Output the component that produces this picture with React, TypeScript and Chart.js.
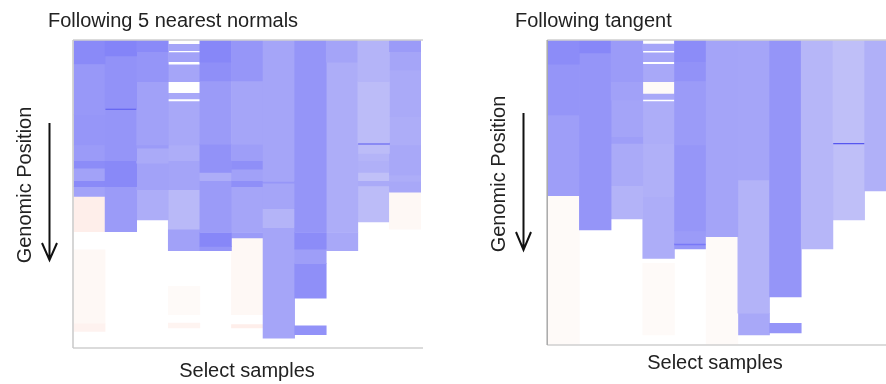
import React, { useEffect, useRef } from 'react';
import { Chart, registerables } from 'chart.js';

Chart.register(...registerables);

// Samples (columns) shown in each panel
const SAMPLES = ['S1', 'S2', 'S3', 'S4', 'S5', 'S6', 'S7', 'S8', 'S9', 'S10', 'S11'];

// Genomic position axis spans 0..1000 (top to bottom)
const POSITION_MIN = 0;
const POSITION_MAX = 1000;

// Segments per sample: [start, end, log ratio]
type Seg = [number, number, number];

const NEAREST_NORMALS_SEGMENTS: Seg[][] = [
  [[0, 78, -0.78], [78, 243, -0.69], [243, 341, -0.7], [341, 392, -0.67], [392, 416, -0.77], [416, 457, -0.62], [457, 476, -0.78], [476, 508, -0.62], [508, 622, 0.08], [681, 919, 0.03], [919, 946, 0.06]],
  [[0, 52, -0.82], [52, 222, -0.73], [222, 225, -1.1], [225, 392, -0.71], [392, 476, -0.79], [476, 622, -0.67]],
  [[0, 38, -0.78], [38, 135, -0.71], [135, 341, -0.63], [341, 351, -0.67], [351, 400, -0.57], [400, 486, -0.62], [486, 584, -0.55]],
  [[14, 35, -0.6], [41, 70, -0.62], [81, 135, -0.6], [173, 191, -0.58], [200, 341, -0.58], [341, 392, -0.55], [392, 486, -0.61], [486, 614, -0.47], [614, 684, -0.63], [800, 892, 0.02], [919, 935, 0.05]],
  [[0, 72, -0.8], [72, 133, -0.75], [133, 338, -0.67], [338, 430, -0.73], [430, 457, -0.55], [457, 625, -0.67], [625, 670, -0.8], [670, 684, -0.71]],
  [[0, 133, -0.7], [133, 338, -0.6], [338, 392, -0.65], [392, 419, -0.75], [419, 457, -0.63], [457, 476, -0.75], [476, 625, -0.6], [625, 643, -0.67], [643, 892, 0.03], [924, 935, 0.08]],
  [[0, 459, -0.6], [459, 465, -0.7], [465, 548, -0.6], [548, 609, -0.5], [609, 968, -0.6]],
  [[0, 625, -0.71], [625, 679, -0.77], [679, 726, -0.65], [726, 838, -0.75], [928, 957, -0.73]],
  [[0, 72, -0.61], [72, 625, -0.55], [625, 684, -0.58]],
  [[0, 135, -0.5], [135, 335, -0.45], [335, 338, -1.13], [338, 368, -0.45], [368, 392, -0.5], [392, 430, -0.53], [430, 457, -0.42], [457, 474, -0.57], [474, 591, -0.45]],
  [[0, 38, -0.67], [38, 97, -0.6], [97, 249, -0.57], [249, 341, -0.55], [341, 438, -0.58], [438, 459, -0.55], [459, 494, -0.58], [494, 614, 0.03]],
];

const TANGENT_SEGMENTS: Seg[][] = [
  [[0, 79, -0.77], [79, 246, -0.71], [246, 510, -0.65], [510, 1000, 0.02]],
  [[0, 42, -0.8], [42, 623, -0.71]],
  [[0, 137, -0.67], [137, 197, -0.63], [197, 317, -0.61], [317, 339, -0.65], [339, 478, -0.57], [478, 587, -0.51]],
  [[13, 35, -0.6], [42, 71, -0.6], [80, 137, -0.58], [137, 175, 0.02], [175, 195, -0.58], [202, 339, -0.55], [339, 514, -0.53], [514, 716, -0.55], [732, 967, 0.02]],
  [[0, 71, -0.77], [71, 134, -0.73], [134, 344, -0.67], [344, 626, -0.7], [626, 667, -0.67], [667, 672, -0.9], [672, 685, -0.7]],
  [[0, 645, -0.61], [645, 1000, 0.02]],
  [[0, 459, -0.6], [459, 896, -0.51], [896, 967, -0.58]],
  [[0, 842, -0.71], [929, 960, -0.71]],
  [[0, 685, -0.49]],
  [[0, 337, -0.43], [337, 341, -1.13], [341, 590, -0.43]],
  [[0, 495, -0.53]],
];

const TITLE_NORMALS = 'Following 5 nearest normals';
const TITLE_TANGENT = 'Following tangent';
const Y_LABEL = 'Genomic Position';
const X_LABEL = 'Select samples';

function segColor(v: number): string {
  if (v < 0) {
    const s = Math.max(60, Math.round(255 + 150 * v));
    const b = v < -1 ? 240 : 248;
    return `rgb(${s},${s},${b})`;
  }
  const g = Math.round(254 - 200 * v);
  const b = Math.round(252 - 220 * v);
  return `rgb(254,${g},${b})`;
}

function buildDatasets(segs: Seg[][]) {
  const maxN = Math.max(...segs.map((c) => c.length));
  const datasets: any[] = [];
  for (let k = 0; k < maxN; k++) {
    datasets.push({
      label: `segment ${k + 1}`,
      data: segs.map((c) => (c[k] ? [c[k][0], c[k][1]] : null)),
      backgroundColor: segs.map((c) => (c[k] ? segColor(c[k][2]) : 'rgba(0,0,0,0)')),
      borderWidth: 0,
      barPercentage: 1,
      categoryPercentage: 1,
    });
  }
  return datasets;
}

type PanelCfg = {
  left: number;
  width: number;
  padding: { left: number; right: number; top: number; bottom: number };
  title: string;
  titleX: number;
  titleY: number;
  yLabelX: number;
  yLabelCY: number;
  arrowX: number;
  arrowTop: number;
  arrowBottom: number;
  headLen: number;
  xLabelCX: number;
  xLabelY: number;
  leftBorderColor: string;
  segs: Seg[][];
};

const FONT = '20px "Liberation Sans", Arial, sans-serif';

function Panel({ cfg }: { cfg: PanelCfg }) {
  const ref = useRef<HTMLCanvasElement | null>(null);
  useEffect(() => {
    if (!ref.current) return;
    const decor = {
      id: 'decor',
      afterDraw(chart: any) {
        const ctx = chart.ctx;
        const a = chart.chartArea;
        ctx.save();
        // frame
        ctx.strokeStyle = '#cfcfcf';
        ctx.lineWidth = 1.5;
        ctx.beginPath();
        ctx.moveTo(a.left - 0.5, a.top);
        ctx.lineTo(a.right + 2, a.top);
        ctx.moveTo(a.left - 0.5, a.bottom);
        ctx.lineTo(a.right + 2, a.bottom);
        ctx.stroke();
        ctx.strokeStyle = cfg.leftBorderColor;
        ctx.beginPath();
        ctx.moveTo(a.left - 0.5, a.top);
        ctx.lineTo(a.left - 0.5, a.bottom);
        ctx.stroke();
        // texts
        ctx.fillStyle = '#222';
        ctx.font = FONT;
        ctx.textBaseline = 'alphabetic';
        ctx.textAlign = 'left';
        ctx.save();
        ctx.translate(cfg.titleX, cfg.titleY);
        ctx.scale(1, 1.05);
        ctx.fillText(cfg.title, 0, 0);
        ctx.restore();
        ctx.save();
        ctx.textAlign = 'center';
        ctx.translate(cfg.xLabelCX, cfg.xLabelY);
        ctx.scale(1, 1.05);
        ctx.fillText(X_LABEL, 0, 0);
        ctx.restore();
        ctx.save();
        ctx.translate(cfg.yLabelX, cfg.yLabelCY);
        ctx.rotate(-Math.PI / 2);
        ctx.textAlign = 'center';
        ctx.scale(1, 1.05);
        ctx.fillText(Y_LABEL, 0, 0);
        ctx.restore();
        // arrow
        ctx.strokeStyle = '#111';
        ctx.lineWidth = 2;
        ctx.beginPath();
        ctx.moveTo(cfg.arrowX, cfg.arrowTop);
        ctx.lineTo(cfg.arrowX, cfg.arrowBottom);
        ctx.moveTo(cfg.arrowX - 7.5, cfg.arrowBottom - cfg.headLen);
        ctx.lineTo(cfg.arrowX, cfg.arrowBottom);
        ctx.lineTo(cfg.arrowX + 7.5, cfg.arrowBottom - cfg.headLen);
        ctx.stroke();
        ctx.restore();
      },
    };
    const chart = new Chart(ref.current, {
      type: 'bar',
      data: { labels: SAMPLES, datasets: buildDatasets(cfg.segs) },
      options: {
        animation: false,
        responsive: false,
        layout: { padding: cfg.padding },
        plugins: { legend: { display: false }, tooltip: { enabled: false }, title: { display: false } },
        scales: {
          x: { display: false, stacked: true, grid: { display: false } },
          y: { display: false, stacked: false, reverse: true, min: POSITION_MIN, max: POSITION_MAX },
        },
      },
      plugins: [decor],
    });
    return () => chart.destroy();
  }, [cfg]);
  return (
    <canvas
      ref={ref}
      width={cfg.width}
      height={384}
      style={{ position: 'absolute', left: cfg.left, top: 0, width: cfg.width, height: 384 }}
    />
  );
}

const LEFT_CFG: PanelCfg = {
  left: 0,
  width: 443,
  padding: { left: 73.5, right: 22, top: 40, bottom: 36 },
  title: TITLE_NORMALS,
  titleX: 48,
  titleY: 27,
  yLabelX: 31,
  yLabelCY: 185,
  arrowX: 49.5,
  arrowTop: 123,
  arrowBottom: 260,
  headLen: 17,
  xLabelCX: 247,
  xLabelY: 377,
  leftBorderColor: '#c8c8c8',
  segs: NEAREST_NORMALS_SEGMENTS,
};

const RIGHT_CFG: PanelCfg = {
  left: 443,
  width: 470,
  padding: { left: 104.7, right: 16.7, top: 40, bottom: 39 },
  title: TITLE_TANGENT,
  titleX: 72,
  titleY: 27,
  yLabelX: 62,
  yLabelCY: 174,
  arrowX: 80.5,
  arrowTop: 113,
  arrowBottom: 250,
  headLen: 18,
  xLabelCX: 272,
  xLabelY: 369,
  leftBorderColor: '#a8a8a8',
  segs: TANGENT_SEGMENTS,
};

export default function App() {
  return (
    <div
      style={{
        position: 'absolute',
        left: 0,
        top: 0,
        width: 886,
        height: 384,
        overflow: 'hidden',
        background: '#ffffff',
      }}
    >
      <Panel cfg={LEFT_CFG} />
      <Panel cfg={RIGHT_CFG} />
    </div>
  );
}
